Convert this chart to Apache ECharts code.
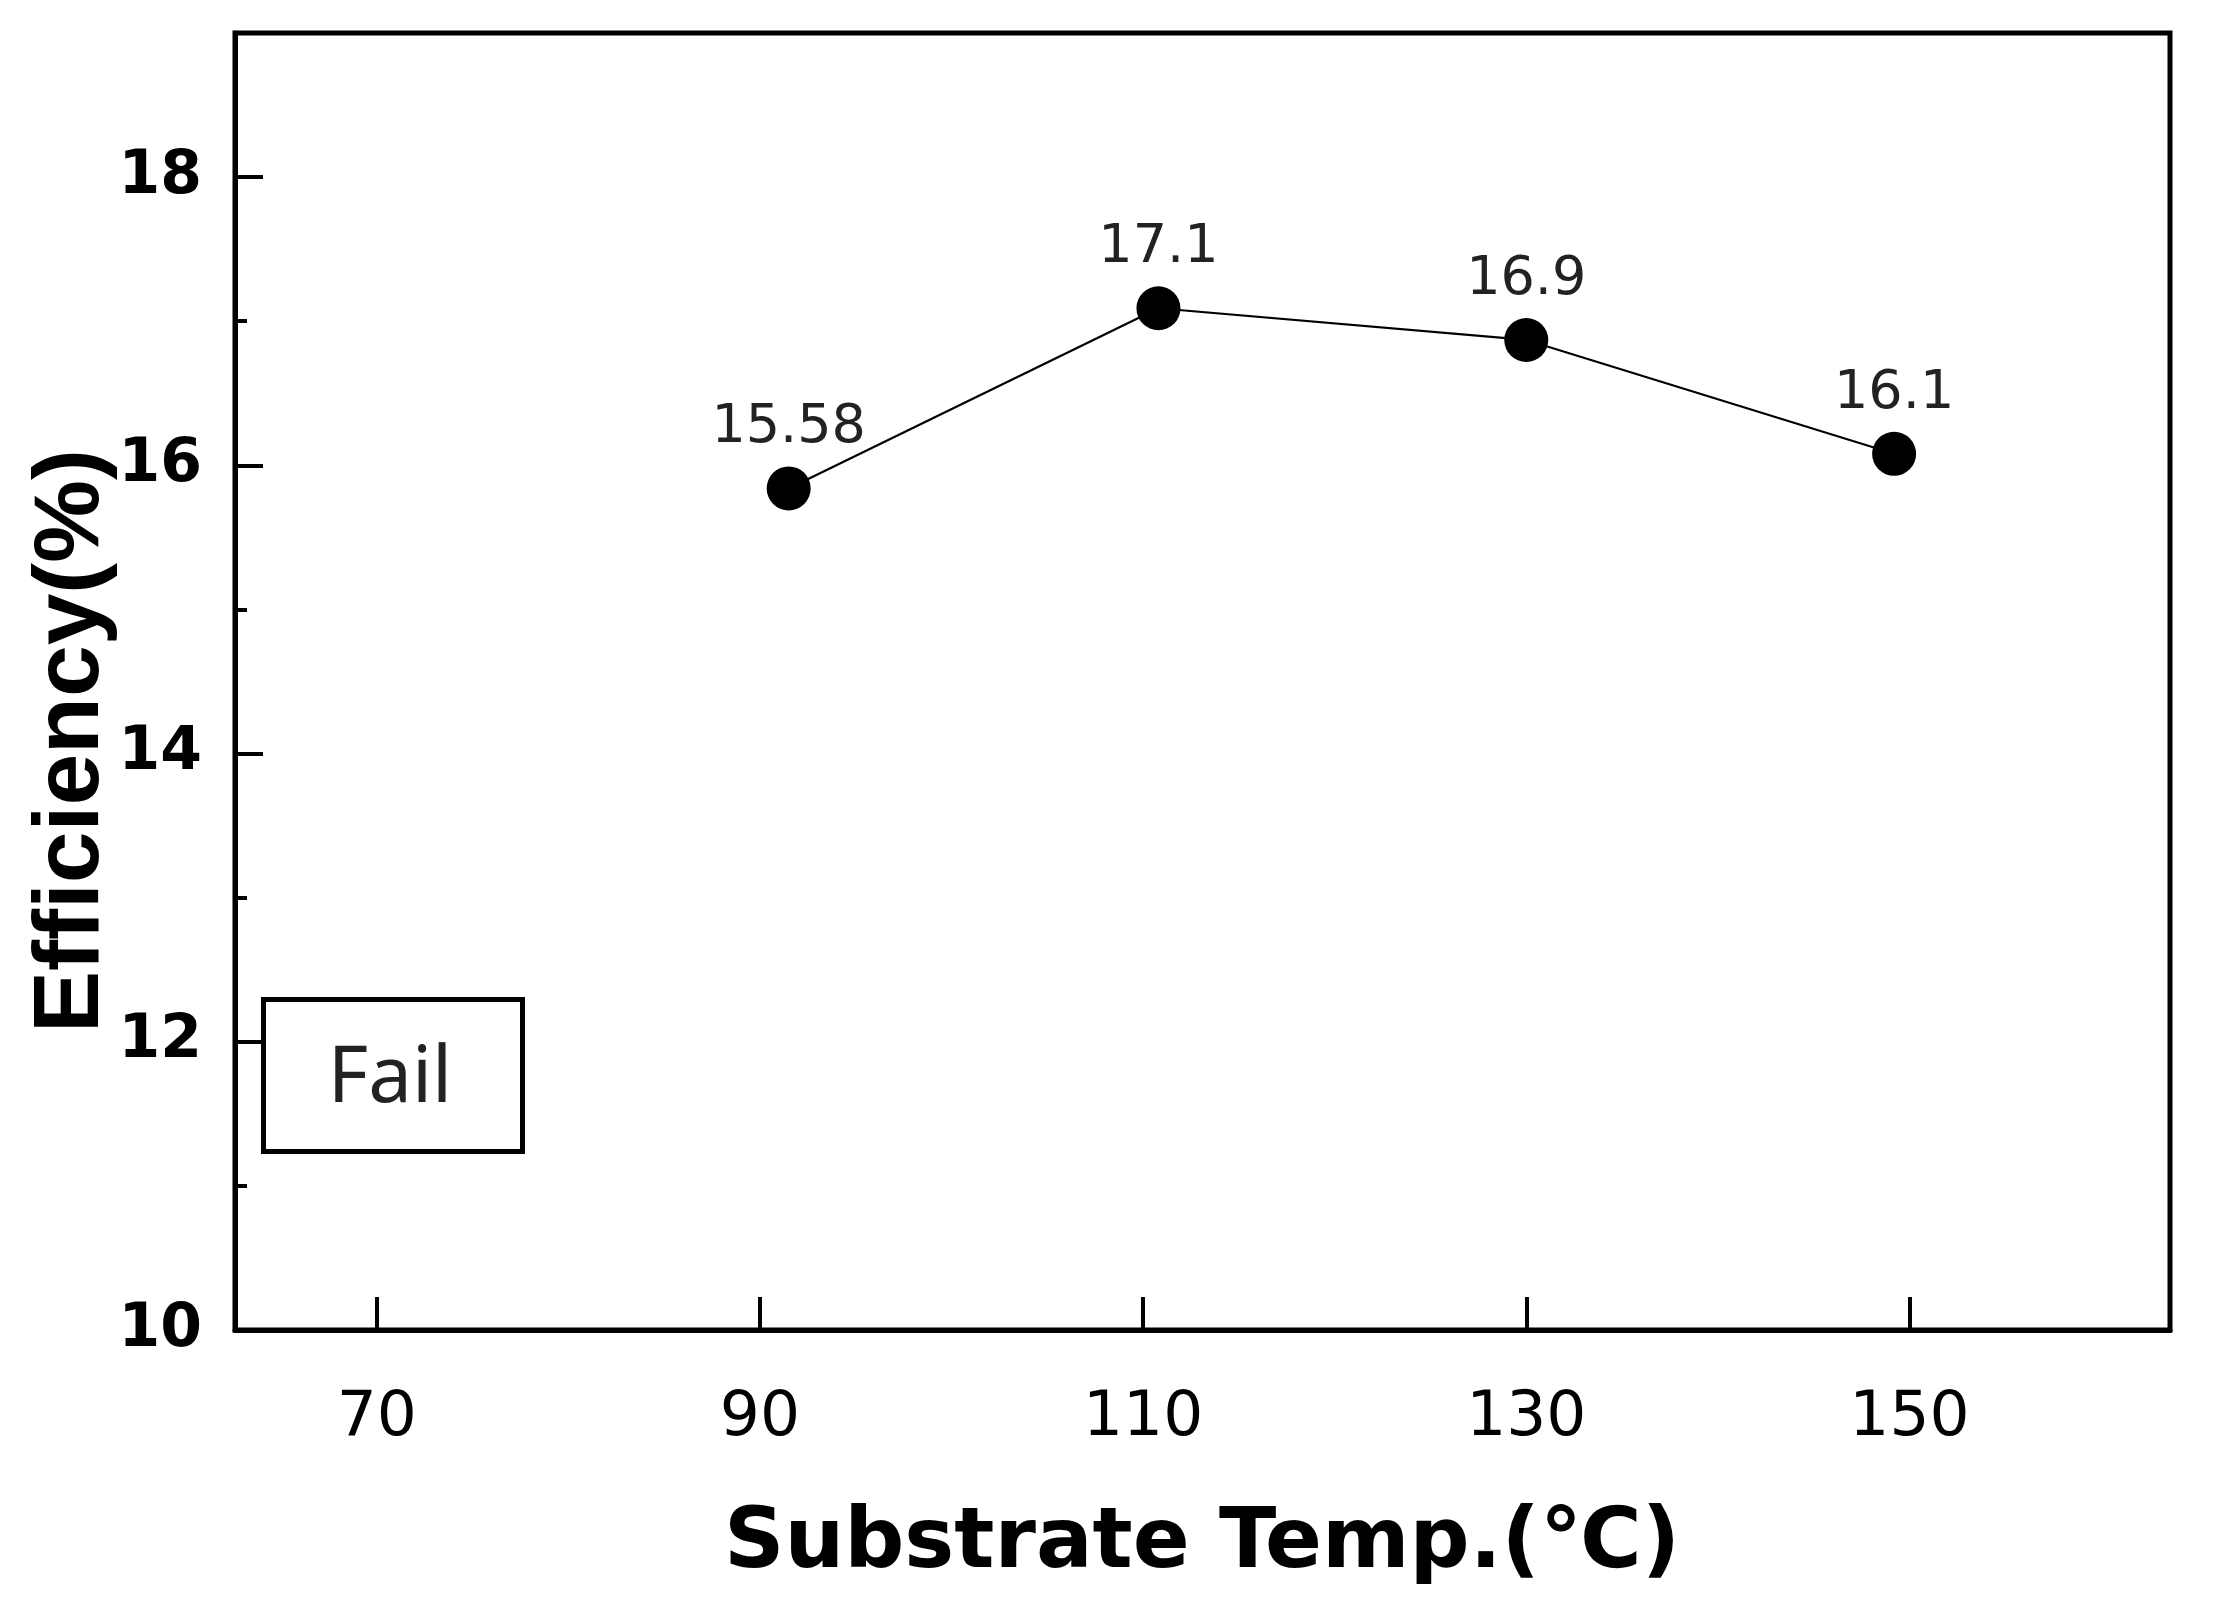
<!DOCTYPE html>
<html>
<head>
<meta charset="utf-8">
<script src="https://cdn.jsdelivr.net/npm/echarts@6/dist/echarts.min.js"></script>
<style>
html,body{margin:0;padding:0;background:#fff;}
#chart{width:2213px;height:1619px;}
</style>
</head>
<body>
<div id="chart"></div>
<script>
// ---- data ----
var temps = [91.5, 110.8, 130.0, 149.2];
var efficiency = [15.84, 17.09, 16.87, 16.08];
var pointLabels = ['15.58', '17.1', '16.9', '16.1'];
var xTicks = [70, 90, 110, 130, 150];
var yMajorTicks = [10, 12, 14, 16, 18];
var yMinorTicks = [11, 13, 15, 17];
var xTitle = 'Substrate Temp.(\u2103)';
var yTitle = 'Efficiency(%)';
var noteText = 'Fail';

var chart = echarts.init(document.getElementById('chart'));
var seriesData = temps.map(function (t, i) { return [t, efficiency[i]]; });

var option = {
  backgroundColor: '#fff',
  animation: false,
  grid: {
    left: 235, right: 43, top: 33, bottom: 289,
    show: true, borderColor: '#000', borderWidth: 5, backgroundColor: 'transparent'
  },
  xAxis: {
    type: 'value', min: 62.6, max: 163.6,
    axisLine: { show: true, lineStyle: { color: '#000', width: 5 } },
    axisTick: { show: true, inside: true, length: 33, lineStyle: { color: '#000', width: 4 }, customValues: xTicks },
    axisLabel: { show: true, margin: 57, color: '#000', fontFamily: 'DejaVu Sans', fontSize: 63, customValues: xTicks },
    splitLine: { show: false }
  },
  yAxis: [{
    type: 'value', min: 10, max: 19,
    axisLine: { show: true, lineStyle: { color: '#000', width: 5 } },
    axisTick: { show: true, inside: true, length: 28, lineStyle: { color: '#000', width: 4 }, customValues: yMajorTicks },
    axisLabel: { show: true, margin: 33, color: '#000', fontFamily: 'DejaVu Sans', fontWeight: 'bold', fontSize: 60, customValues: yMajorTicks },
    splitLine: { show: false }
  }, {
    type: 'value', min: 10, max: 19, position: 'left',
    axisLine: { show: false },
    axisTick: { show: true, inside: true, length: 12, lineStyle: { color: '#000', width: 4 }, customValues: yMinorTicks },
    axisLabel: { show: false },
    splitLine: { show: false }
  }],
  series: [{
    type: 'line',
    data: seriesData,
    symbol: 'circle',
    symbolSize: 44,
    itemStyle: { color: '#000' },
    lineStyle: { color: '#000', width: 2.2 },
    label: {
      show: true, position: 'top', distance: 11,
      fontFamily: 'DejaVu Sans', fontSize: 54, color: '#222',
      formatter: function (p) { return pointLabels[p.dataIndex]; }
    }
  }],
  graphic: [
    {
      type: 'text', x: 72, y: 741, rotation: Math.PI / 2,
      style: { text: yTitle, fontFamily: 'Liberation Sans', fontWeight: 'bold', fontSize: 93, fill: '#000', align: 'center', verticalAlign: 'middle' }
    },
    {
      type: 'text', x: 1202, y: 1545,
      style: { text: xTitle, fontFamily: 'DejaVu Sans', fontWeight: 'bold', fontSize: 84, fill: '#000', align: 'center', verticalAlign: 'middle' }
    },
    {
      type: 'rect', shape: { x: 263.5, y: 999.5, width: 259, height: 152 },
      style: { fill: '#fff', stroke: '#000', lineWidth: 5 }, z: 10
    },
    {
      type: 'text', x: 390, y: 1080, z: 11,
      style: { text: noteText, fontFamily: 'Noto Sans', fontSize: 78, fill: '#222', align: 'center', verticalAlign: 'middle' }
    }
  ]
};
chart.setOption(option);
</script>
</body>
</html>
